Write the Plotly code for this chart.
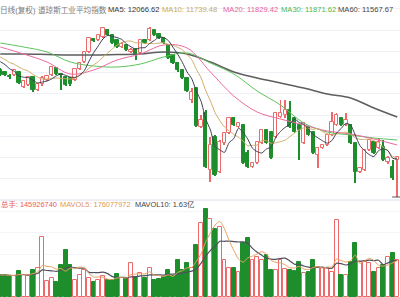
import numpy as np
import pandas as pd
import plotly.graph_objects as go

# ---------------- data ----------------
header_cn = ["日线(复权)", "道琼斯工业平均指数"]
ma_labels = ["MA5: 12066.62", "MA10: 11739.48", "MA20: 11829.42", "MA30: 11871.62", "MA60: 11567.67"]
vol_labels = ["总手: 145926740", "MAVOL5: 176077972", "MAVOL10: 1.63亿"]

open_ = [12400,12380,12340,12350,12380,12230,12250,12330,12200,12260,
         12300,12350,12420,12360,12330,12320,12300,12410,12480,12580,
         12710,12700,12730,12800,12750,12700,12630,12650,12580,12610,
         12570,12700,12700,12800,12760,12720,12650,12550,12470,12400,
         12320,12100,12220,11830,11970,11400,11730,11380,11670,11770,
         11920,11830,11850,11570,11430,11470,11670,11800,11780,11730,
         11930,11950,12000,11920,11850,11670,11830,11780,11550,11620,
         11650,11750,11850,11920,11850,11850,11670,11380,11400,11600,
         11680,11620,11630,11480,11430,11500]
high = [12420,12390,12360,12410,12390,12300,12340,12340,12270,12340,
        12350,12440,12430,12370,12340,12330,12420,12480,12590,12730,
        12720,12760,12830,12810,12760,12710,12680,12660,12620,12620,
        12710,12710,12830,12810,12770,12730,12660,12560,12480,12410,
        12330,12220,12230,11950,12000,11730,11750,11700,11780,11930,
        11930,11880,11860,11600,11480,11690,11810,11810,11790,11980,
        12100,12100,12090,11930,11860,11880,11840,11790,11630,11660,
        11760,11980,11970,11930,11970,11860,11680,11430,11610,11710,
        11690,11720,11700,11540,11500,11540]
low = [12340,12340,12310,12340,12260,12220,12240,12180,12190,12240,
       12290,12340,12350,12200,12240,12240,12290,12400,12470,12570,
       12680,12690,12720,12740,12660,12620,12620,12590,12570,12500,
       12560,12660,12690,12740,12710,12660,12510,12460,12380,12310,
       12180,12070,11830,11820,11420,11280,11340,11370,11650,11760,
       11840,11820,11460,11420,11420,11460,11660,11660,11510,11720,
       11920,11920,11820,11770,11500,11660,11740,11560,11420,11610,
       11640,11740,11840,11840,11840,11660,11270,11370,11390,11590,
       11560,11610,11490,11460,11300,11130]
close = [12350,12350,12330,12400,12270,12290,12330,12200,12260,12320,
         12340,12430,12360,12350,12250,12260,12410,12470,12580,12720,
         12690,12750,12820,12750,12670,12630,12660,12600,12600,12550,
         12700,12670,12810,12750,12720,12670,12520,12470,12400,12320,
         12190,12180,11840,11900,11430,11650,11350,11680,11770,11920,
         11850,11870,11470,11430,11470,11680,11800,11670,11520,11970,
         11970,12000,11830,11780,11800,11870,11750,11570,11620,11650,
         11750,11880,11950,11850,11900,11670,11380,11420,11600,11700,
         11570,11680,11500,11520,11320,11530]
# closes of the days just before the visible window (for the short moving averages)
prev_close = [12600,12620,12580,12550,12520,12500,12540,12530,12500]

# volume, millions of shares
volume_m = [88,88,84,84,104,88,84,108,116,240,
            64,76,60,128,188,128,68,88,108,76,
            60,68,84,68,68,92,76,76,136,80,
            96,76,116,68,72,80,108,84,148,108,
            136,116,208,296,352,312,272,280,148,116,
            116,100,216,236,148,160,148,168,108,108,
            148,112,108,104,140,96,100,148,120,116,
            116,100,308,88,88,140,216,140,140,136,
            100,116,128,160,176,148]

# long moving averages at every 5th day
ma_idx = [0,5,10,15,20,25,30,35,40,45,50,55,60,65,70,75,80,85]
ma20_s = [12630,12560,12480,12360,12400,12500,12560,12650,12620,12380,12140,11980,11910,11850,11790,11760,11710,11650]
ma30_s = [12670,12630,12580,12480,12440,12430,12460,12530,12570,12470,12360,12190,12050,11870,11780,11750,11720,11700]
ma60_s = [12560,12560,12555,12550,12550,12555,12560,12580,12560,12480,12380,12320,12270,12220,12160,12120,12020,11930]

# ---------------- derived ----------------
n = len(close)
idx = list(range(n))
c_all = pd.Series(prev_close + close, dtype=float)
ma5 = c_all.rolling(5).mean().iloc[len(prev_close):].tolist()
ma10 = c_all.rolling(10).mean().iloc[len(prev_close):].tolist()
vs = pd.Series(volume_m, dtype=float)
mavol5 = vs.rolling(5, min_periods=1).mean().tolist()
mavol10 = vs.rolling(10, min_periods=1).mean().tolist()

RED = '#ee6a6a'
GREEN = '#1e8e2c'
rising = [c >= o for o, c in zip(open_, close)]
edge = [RED if r else GREEN for r in rising]
fill = ['#ffffff' if r else GREEN for r in rising]

W, H = 400, 297
price_range = [11100, 13100]
vol_range = [0, 388]
split = 97 / H
x_range = [-0.064, 85.59]

fig = go.Figure()
# wicks
fig.add_trace(go.Bar(x=idx, base=low, y=[h - l for h, l in zip(high, low)], width=0.2,
                     marker=dict(color=edge, line=dict(width=0)), xaxis='x', yaxis='y',
                     hoverinfo='skip', showlegend=False))
# bodies
fig.add_trace(go.Bar(x=idx, base=[min(o, c) for o, c in zip(open_, close)],
                     y=[max(abs(c - o), 5) for o, c in zip(open_, close)], width=0.7,
                     marker=dict(color=fill, line=dict(color=edge, width=1)),
                     xaxis='x', yaxis='y', showlegend=False))
# moving averages
fig.add_trace(go.Scatter(x=ma_idx, y=ma60_s, mode='lines', line=dict(color='#5e5e5e', width=1.5, shape='spline'),
                         xaxis='x', yaxis='y', showlegend=False))
fig.add_trace(go.Scatter(x=ma_idx, y=ma30_s, mode='lines', line=dict(color='#5ec35e', width=1, shape='spline'),
                         xaxis='x', yaxis='y', showlegend=False))
fig.add_trace(go.Scatter(x=ma_idx, y=ma20_s, mode='lines', line=dict(color='#ee6aa0', width=1, shape='spline'),
                         xaxis='x', yaxis='y', showlegend=False))
fig.add_trace(go.Scatter(x=idx, y=ma10, mode='lines', line=dict(color='#cfae68', width=1, shape='spline', smoothing=0.6),
                         xaxis='x', yaxis='y', showlegend=False))
fig.add_trace(go.Scatter(x=idx, y=ma5, mode='lines', line=dict(color='#3e3e52', width=1, shape='spline', smoothing=0.6),
                         xaxis='x', yaxis='y', showlegend=False))
# volume
fig.add_trace(go.Bar(x=idx, y=volume_m, width=0.84,
                     marker=dict(color=fill, line=dict(color=edge, width=1)),
                     xaxis='x2', yaxis='y2', showlegend=False))
fig.add_trace(go.Scatter(x=idx, y=mavol10, mode='lines', line=dict(color='#50505e', width=1.2, shape='spline', smoothing=0.6),
                         xaxis='x2', yaxis='y2', showlegend=False))
fig.add_trace(go.Scatter(x=idx, y=mavol5, mode='lines', line=dict(color='#e9a060', width=1, shape='spline', smoothing=0.6),
                         xaxis='x2', yaxis='y2', showlegend=False))

# lowest-price marker
imin = int(np.argmin(low))
fig.add_shape(type='line', xref='x', yref='y', x0=imin - 1.1, x1=imin + 1, y0=low[imin], y1=low[imin],
              line=dict(color='#555555', width=1))
# panel separator
fig.add_shape(type='line', xref='paper', yref='paper', x0=0, x1=1, y0=split, y1=split,
              line=dict(color='#dcdce8', width=1))

FONT = 'Liberation Sans, Arial, Noto Sans CJK SC'
def label(xpx, ypx, text, color, size=7.6):
    fig.add_annotation(x=xpx / W, y=1 - ypx / H, xref='paper', yref='paper', text=text,
                       showarrow=False, xanchor='left', yanchor='middle',
                       font=dict(family=FONT, size=size, color=color), borderpad=0)

label(-1, 10, header_cn[0], '#7a7a7a')
label(37, 10, header_cn[1], '#7a7a7a')
ma_cols = ['#333333', '#c8a860', '#e8609a', '#4cb84c', '#444444']
ma_x = [107, 161, 222, 280, 337]
for t, c, xp in zip(ma_labels, ma_cols, ma_x):
    label(xp, 10, t, c)
vol_cols = ['#e85a5a', '#e09a55', '#444444']
vol_x = [0, 59, 134]
for t, c, xp in zip(vol_labels, vol_cols, vol_x):
    label(xp, 204.5, t, c, size=7.4)

ax = dict(range=x_range, showticklabels=False, showgrid=False, zeroline=False, showline=False, ticks='')
fig.update_layout(
    width=W, height=H, margin=dict(l=0, r=0, t=0, b=0),
    paper_bgcolor='white', plot_bgcolor='white', barmode='overlay', bargap=0,
    xaxis=dict(**ax, anchor='y'),
    xaxis2=dict(**ax, anchor='y2', matches='x'),
    yaxis=dict(domain=[split, 1], range=price_range, tick0=12800, dtick=212.5,
               gridcolor='#f0f0f6', gridwidth=1, showticklabels=False, zeroline=False, ticks=''),
    yaxis2=dict(domain=[0, split], range=vol_range, tick0=0, dtick=86,
                gridcolor='#f5f5f9', gridwidth=1, showticklabels=False, zeroline=False, ticks=''),
    hovermode=False,
)
fig.write_html("out.html")
